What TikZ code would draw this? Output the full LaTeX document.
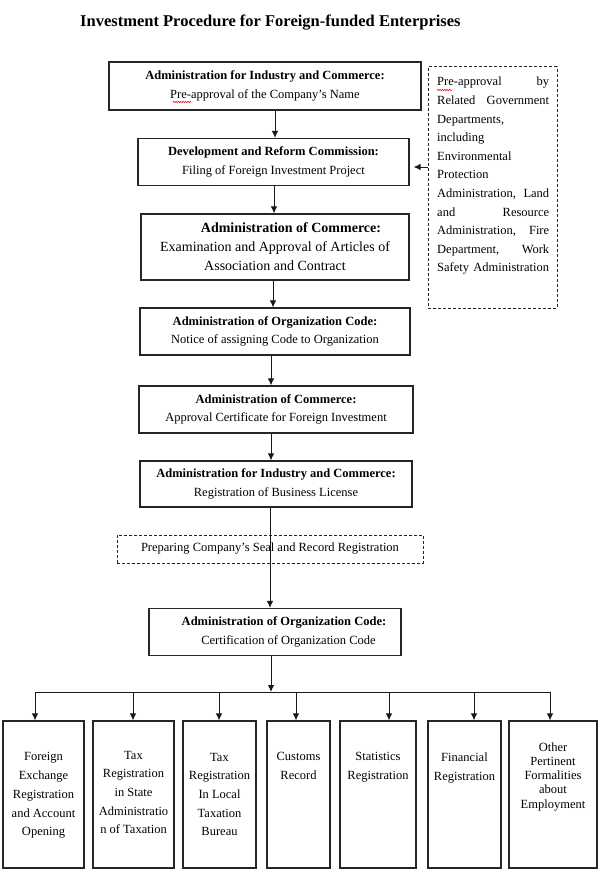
\documentclass[tikz,border=0pt]{standalone}
\usepackage{fontspec}
\setmainfont{Liberation Serif}
\usetikzlibrary{arrows.meta,decorations.pathmorphing}
\begin{document}
\begin{tikzpicture}[x=1pt,y=-1pt,
  box/.style={draw=black!85, line width=1.1pt, rectangle, inner sep=0pt, align=center, font=\fontsize{12.5}{18.5}\selectfont},
  dbox/.style={box, line width=1pt, dash pattern=on 3pt off 2pt},
  arr/.style={line width=1pt, draw=black!90, -{Latex[length=7pt,width=6.5pt]}},
  bus/.style={line width=1pt, draw=black!90},
  txt/.style={inner sep=0pt, align=center, font=\fontsize{12.5}{18.7}\selectfont},
  squig/.style={draw=red!80!black, line width=0.5pt, decorate, decoration={zigzag, amplitude=0.7pt, segment length=2.4pt}}]
\useasboundingbox[fill=white] (0,0) rectangle (599,875);

\node[anchor=west, inner sep=0pt, font=\fontsize{16.5}{20}\selectfont\bfseries] (title) at (80,23) {Investment Procedure for Foreign-funded Enterprises};

\node[box, minimum width=312, minimum height=48] (b1) at (265,86) {\textbf{Administration for Industry and Commerce:}\\Pre-approval of the Company’s Name};
\node[box, minimum width=271, minimum height=47] (b2) at (273.5,162) {\textbf{Development and Reform Commission:}\\Filing of Foreign Investment Project};
\node[box, minimum width=268, minimum height=66, font=\fontsize{14}{19}\selectfont] (b3) at (275,247) {\hspace*{32pt}\textbf{Administration of Commerce:}\\Examination and Approval of Articles of\\Association and Contract};
\node[box, minimum width=270, minimum height=47] (b4) at (275,331.5) {\textbf{Administration of Organization Code:}\\Notice of assigning Code to Organization};
\node[box, minimum width=274, minimum height=47] (b5) at (276,409.5) {\textbf{Administration of Commerce:}\\Approval Certificate for Foreign Investment};
\node[box, minimum width=272, minimum height=46] (b6) at (276,484) {\textbf{Administration for Industry and Commerce:}\\Registration of Business License};
\node[dbox, minimum width=306, minimum height=28] (b7) at (270,549) {Preparing Company’s Seal and Record Registration};
\node[box, minimum width=252, minimum height=47] (b8) at (275,632) {\hspace*{18pt}\textbf{Administration of Organization Code:}\\\hspace*{27pt}Certification of Organization Code};

\node[dbox, minimum width=129, minimum height=241] (rb) at (492.5,187.5) {};
\node[anchor=north west, inner sep=0pt, text width=112pt, align=left, font=\fontsize{12.5}{18.6}\selectfont] (rt) at (437,77) {Pre-approval\hfill by\\Related\hfill Government\\Departments,\\including\\Environmental\\Protection\\Administration,\hfill Land\\and\hfill Resource\\Administration,\hfill Fire\\Department,\hfill Work\\Safety Administration};

\draw[squig] (173,102) -- (191,102);
\draw[squig] (437,90) -- (452,90);

\coordinate (rbt) at ([xshift=4pt]b2.east);
\draw[arr] (b1.south -| 275,0) -- (b2.north -| 275,0);
\draw[arr] (b2.south -| 274,0) -- (b3.north -| 274,0);
\draw[arr] (b3.south -| 273,0) -- (b4.north -| 273,0);
\draw[arr] (b4.south -| 271,0) -- (b5.north -| 271,0);
\draw[arr] (b5.south -| 271,0) -- (b6.north -| 271,0);
\draw[arr] (b6.south -| 270,0) -- (b8.north -| 270,0);
\draw[arr] (rb.west |- 0,167) -- (rbt |- 0,167);

% bottom boxes
\node[box, minimum width=81, minimum height=147] (bA) at (43.5,794.5) {};
\node[box, minimum width=81, minimum height=147] (bB) at (133.5,794.5) {};
\node[box, minimum width=73, minimum height=147] (bC) at (219.5,794.5) {};
\node[box, minimum width=63, minimum height=147] (bD) at (298.5,794.5) {};
\node[box, minimum width=76, minimum height=147] (bE) at (378,794.5) {};
\node[box, minimum width=73, minimum height=147] (bF) at (464.5,794.5) {};
\node[box, minimum width=88, minimum height=147] (bG) at (553,794.5) {};

\node[txt, anchor=north] (tA) at (43.5,752.5) {Foreign\\Exchange\\Registration\\and Account\\Opening};
\node[txt, anchor=north] (tB) at (133.5,750.7) {Tax\\Registration\\in State\\Administratio\\n of Taxation};
\node[txt, anchor=north] (tC) at (219.5,752.7) {Tax\\Registration\\In Local\\Taxation\\Bureau};
\node[txt, anchor=north] (tD) at (298.5,752.5) {Customs\\Record};
\node[txt, anchor=north] (tE) at (378,752.5) {Statistics\\Registration};
\node[txt, anchor=north] (tF) at (464.5,752.5) {Financial\\Registration};
\node[txt, anchor=north, font=\fontsize{12.5}{14.2}\selectfont] (tG) at (553,742.5) {Other\\Pertinent\\Formalities\\about\\Employment};

\coordinate (busL) at (35,692);
\coordinate (busR) at (550,692);
\coordinate (busM) at (271,692);
\draw[arr] (b8.south -| busM) -- (busM);
\draw[bus] (busL) -- (busR);
\draw[arr] (busL) -- (bA.north -| busL);
\draw[arr] (busM -| 133,0) -- (bB.north -| 133,0);
\draw[arr] (busM -| 219,0) -- (bC.north -| 219,0);
\draw[arr] (busM -| 296,0) -- (bD.north -| 296,0);
\draw[arr] (busM -| 389,0) -- (bE.north -| 389,0);
\draw[arr] (busM -| 474,0) -- (bF.north -| 474,0);
\draw[arr] (busR) -- (bG.north -| busR);
\end{tikzpicture}
\end{document}
